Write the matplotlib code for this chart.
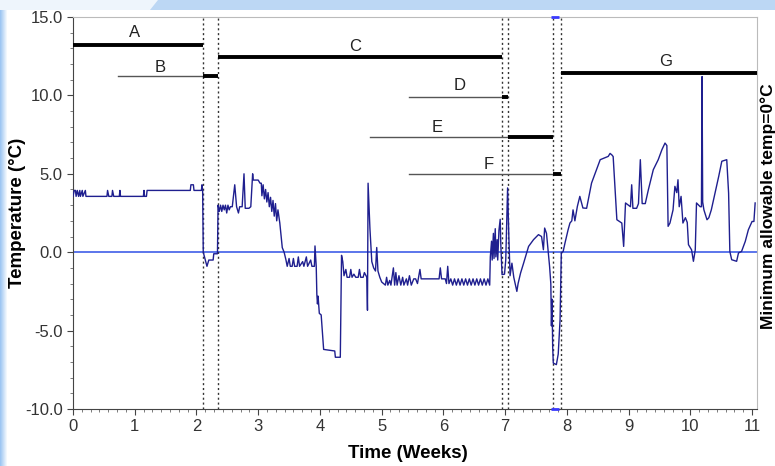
import numpy as np
import matplotlib
matplotlib.use("Agg")
import matplotlib.pyplot as plt
from matplotlib.ticker import MultipleLocator, FormatStrFormatter
from matplotlib.patches import Polygon, Rectangle

plt.rcParams['font.family'] = ['Liberation Sans', 'DejaVu Sans']

# Temperature trace (weeks, degC)
trace_weeks = [
    0, 0.02, 0.04, 0.05, 0.07, 0.09, 0.11, 0.12, 0.15, 0.16, 0.2, 0.21, 0.55, 0.56, 0.58,
    0.63, 0.64, 0.66, 0.75, 0.76, 0.77, 1.14, 1.15, 1.16, 1.19, 1.2, 1.9, 1.91, 1.95, 1.96,
    2.08, 2.09, 2.1, 2.11, 2.13, 2.17, 2.2, 2.27, 2.28, 2.34, 2.35,
    2.37, 2.39, 2.41, 2.43, 2.45, 2.47, 2.49, 2.51, 2.53, 2.55, 2.58, 2.62, 2.65, 2.68, 2.70,
    2.74, 2.77, 2.79, 2.85, 2.88, 2.91, 2.92, 3.0, 3.03, 3.05, 3.06, 3.08, 3.10, 3.12, 3.14,
    3.16, 3.18, 3.20, 3.22, 3.24, 3.26, 3.28, 3.30, 3.32, 3.35, 3.39, 3.42, 3.45, 3.47, 3.50,
    3.52, 3.55, 3.57, 3.59, 3.63, 3.65, 3.67, 3.72, 3.74, 3.78, 3.80, 3.85, 3.87, 3.91, 3.92,
    3.94, 3.95, 3.96, 3.97, 3.99, 4.02, 4.06, 4.24, 4.25, 4.33, 4.35, 4.37, 4.39, 4.42, 4.44,
    4.48, 4.50, 4.52, 4.55, 4.58, 4.62, 4.64, 4.66, 4.70, 4.72, 4.76, 4.77, 4.78, 4.81, 4.84,
    4.87, 4.90, 4.92, 4.94, 4.97, 5.0, 5.03,
    5.06, 5.08, 5.10, 5.13, 5.15, 5.19, 5.21, 5.23, 5.25, 5.28, 5.31, 5.34, 5.36, 5.40, 5.42,
    5.45, 5.48, 5.52, 5.55, 5.58, 5.62, 5.64, 5.70, 5.90, 5.93, 5.95, 5.97, 6.03, 6.05, 6.07,
    6.09, 6.12, 6.15, 6.18, 6.21, 6.24, 6.27, 6.30, 6.33, 6.36, 6.39, 6.42, 6.45, 6.48, 6.51,
    6.54, 6.57, 6.60, 6.63, 6.66, 6.69, 6.72, 6.75, 6.76, 6.78, 6.79, 6.81, 6.82, 6.84, 6.85,
    6.87, 6.88, 6.90, 6.92, 6.93, 6.95, 6.99, 7.01, 7.04, 7.06, 7.08, 7.11, 7.14, 7.19, 7.21,
    7.25, 7.3, 7.38, 7.46, 7.54, 7.59, 7.62, 7.64, 7.67, 7.70, 7.72, 7.74, 7.75, 7.76, 7.77,
    7.78, 7.83, 7.86, 7.89, 7.91, 7.94, 7.97, 8.02, 8.05, 8.08, 8.10, 8.13, 8.17, 8.21, 8.26,
    8.32, 8.40, 8.48, 8.54, 8.67, 8.70, 8.73, 8.75, 8.81, 8.89, 8.92, 8.95, 9.03, 9.05, 9.07,
    9.13, 9.16, 9.19, 9.22, 9.27, 9.32, 9.40, 9.48, 9.54, 9.59, 9.62, 9.64, 9.67, 9.72, 9.75,
    9.78, 9.80, 9.82, 9.85, 9.88, 9.92, 9.95, 9.97, 10.02, 10.05, 10.08, 10.10, 10.16, 10.18,
    10.19, 10.20, 10.22, 10.27, 10.30, 10.34, 10.40, 10.46, 10.51, 10.59, 10.62, 10.64, 10.67,
    10.75, 10.78, 10.83, 10.89, 10.94, 11.0, 11.03, 11.05,
]
trace_temp = [
    3.56, 3.94, 3.94, 3.56, 3.94, 3.56, 3.94, 3.56, 3.94, 3.56, 3.94, 3.56, 3.56, 3.94, 3.56,
    3.56, 3.94, 3.56, 3.56, 3.94, 3.56, 3.56, 3.94, 3.56, 3.56, 3.94, 3.94, 4.3, 4.3, 3.94,
    3.94, 4.3, 3.9, 0.0, -0.3, -0.9, -0.5, -0.5, -0.1, -0.1, 3.0,
    2.6, 3.0, 2.6, 3.0, 2.7, 3.0, 2.5, 3.0, 2.7, 2.9, 2.9, 4.3, 2.9, 2.5, 2.9,
    2.9, 5.0, 2.8, 2.8, 2.9, 5.0, 4.6, 4.6, 4.4, 4.4, 3.6, 4.3, 3.4, 4.0, 3.2,
    3.8, 2.9, 3.5, 2.6, 3.3, 2.3, 3.1, 2.0, 2.7, 1.86, 0.29, 0.0, -0.5, -0.9, -0.4,
    -0.9, -0.9, -0.4, -0.9, -0.9, -0.3, -0.9, -0.6, -0.9, -0.3, -0.9, -0.5, -0.9, -0.9, 0.4,
    -0.9, -2.7, -3.3, -2.8, -3.9, -4.0, -6.2, -6.3, -6.7, -6.7, -0.2, -0.6, -1.5, -1.1, -1.6,
    -1.6, -1.1, -1.6, -1.4, -1.6, -1.6, -1.1, -1.6, -1.6, -1.3, -1.6, -3.7, 4.4, 1.5, -0.6,
    -1.0, -1.2, 0.3, -1.2, -1.6, -1.9, -2.0,
    -2.1, -1.6, -2.1, -1.8, -2.1, -1.0, -2.1, -1.3, -2.1, -1.5, -2.1, -1.6, -2.1, -1.7, -2.1,
    -1.5, -2.1, -1.7, -1.7, -2.0, -1.1, -1.7, -1.7, -1.7, -1.7, -1.0, -1.7, -1.7, -2.0, -0.9,
    -2.0, -1.7, -2.1, -1.7, -2.1, -1.7, -2.1, -1.7, -2.1, -1.7, -2.1, -1.7, -2.1, -1.7, -2.1,
    -1.7, -2.1, -1.7, -2.1, -1.7, -2.1, -1.7, -2.1, -0.3, 0.7, -0.5, 1.2, -0.4, 1.5, -0.3,
    0.8, -0.5, 1.4, 2.1, 0.5, -1.43, -1.4, -0.5, 4.1, 1.0, -1.5, -0.7, -1.6, -2.5, -2.0,
    -1.33, -0.69, 0.37, 0.8, 1.12, 1.0, 0.16, 1.54, 1.2, -0.05, -0.9, -2.0, -4.7, -3.0, -6.0,
    -7.07, -7.17, -6.5, -4.3, -0.05, 0.05, 0.59, 1.43, 1.86, 2.0, 2.7, 2.0, 2.92, 3.56, 2.82,
    2.8, 4.41, 5.26, 5.9, 6.11, 6.3, 6.2, 6.1, 2.07, 1.86, 0.37, 3.14, 2.9, 4.3, 2.8,
    2.8, 3.1, 5.9, 3.1, 3.1, 3.98, 5.26, 5.9, 6.54, 6.96, 6.8, 1.65, 1.86, 2.7, 4.2,
    3.8, 4.62, 2.9, 3.56, 1.86, 2.2, 1.9, 0.48, 0.15, -0.58, 0.15, 3.14, 2.9, 2.9,
    11.2, 3.2, 2.7, 2.07, 2.2, 2.7, 3.77, 4.84, 5.8, 5.9, 3.77, 0.05, -0.48,
    -0.58, -0.05, 0.05, 0.69, 1.43, 1.96, 1.96, 3.14,
]

# Periods A-G: thin lead-in line, thick bar, label
period_labels = ['A', 'B', 'C', 'D', 'E', 'F', 'G']
bar_level = [13.2, 11.25, 12.45, 9.9, 7.35, 5.0, 11.45]
thin_start = [None, 0.73, None, 5.45, 4.81, 5.45, None]
thick_start = [0.0, 2.1, 2.35, 6.95, 7.05, 7.78, 7.91]
thick_end = [2.1, 2.35, 6.95, 7.05, 7.78, 7.91, 11.08]
label_x = [1.0, 1.41, 4.57, 6.27, 5.9, 6.73, 9.6]
label_y = [14.0, 11.8, 13.1, 10.6, 7.95, 5.6, 12.15]

boundaries = [2.1, 2.35, 6.95, 7.05, 7.78, 7.91]
min_temp = 0.0
blue_marks_x = [7.8, 7.8]
blue_marks_y = [15.0, -10.0]

W, H = 775, 466
fig = plt.figure(figsize=(W / 100, H / 100), dpi=100, facecolor='white')

# slide-like background
bg = fig.add_axes([0, 0, 1, 1], zorder=-5)
bg.set_xlim(0, W)
bg.set_ylim(H, 0)
bg.axis('off')
bg.add_patch(Rectangle((0, 0), 160, 10, color='#eef5fc', lw=0))
bg.add_patch(Polygon([(158, 0), (W, 0), (W, 10), (150, 10)], closed=True, color='#bcd7f4', lw=0))
grad = np.linspace(0, 1, 8)[None, :, None]
left_col = np.array([0.62, 0.78, 0.95])
strip = left_col * (1 - grad) + np.array([1, 1, 1]) * grad
strip = np.repeat(strip, 2, axis=0)
bg.imshow(strip, extent=(0, 8, H, 10), aspect='auto', interpolation='bilinear')

ax = fig.add_axes([73 / W, (H - 409) / H, (757 - 73) / W, (409 - 17) / H])
ax.set_xlim(0, 11.08)
ax.set_ylim(-10, 15)

ax.axhline(min_temp, color='#2f4fe6', lw=1.1, zorder=2)
for b in boundaries:
    ax.axvline(b, color='#333333', lw=1.0, ls=(0, (1.5, 2)), zorder=3)

ax.plot(trace_weeks, trace_temp, color='#1f1f8f', lw=1.0, zorder=4)

for i, lab in enumerate(period_labels):
    y = bar_level[i]
    if thin_start[i] is not None:
        ax.plot([thin_start[i], thick_start[i]], [y, y], color='#555555', lw=1.0, zorder=5)
    ax.plot([thick_start[i], thick_end[i]], [y, y], color='black', lw=2.8,
            solid_capstyle='butt', zorder=5)
    ax.text(label_x[i], label_y[i], lab, ha='center', va='center', fontsize=12, color='#222222')

ax.plot(blue_marks_x, blue_marks_y, ls='none', marker='_', ms=6, mew=2,
        color='#3a3aff', clip_on=False, zorder=6)

for side in ['left', 'bottom']:
    ax.spines[side].set_color('#444444')
for side in ['right', 'top']:
    ax.spines[side].set_color('#bbbbbb')

ax.xaxis.set_major_locator(MultipleLocator(1))
ax.xaxis.set_minor_locator(MultipleLocator(1 / 7))
ax.yaxis.set_major_locator(MultipleLocator(5))
ax.yaxis.set_minor_locator(MultipleLocator(1))
ax.yaxis.set_major_formatter(FormatStrFormatter('%.1f'))
ax.tick_params(which='major', direction='out', length=4, labelsize=12,
               labelcolor='#333333', color='#444444')
ax.tick_params(which='minor', direction='out', length=2, color='#666666')
ax.tick_params(top=False, right=False)

ax.set_xlabel('Time (Weeks)', fontsize=13.5, fontweight='bold')
ax.set_ylabel('Temperature (°C)', fontsize=13.5, fontweight='bold')
ax.xaxis.set_label_coords(0.49, -0.093)
ax.yaxis.set_label_coords(-0.069, 0.5)

fig.text(768 / W, 1 - 206 / H, 'Minimum allowable temp=0°C', rotation=90,
         ha='center', va='center', fontsize=12.5, fontweight='bold')

fig.savefig('out.png', dpi=100)
